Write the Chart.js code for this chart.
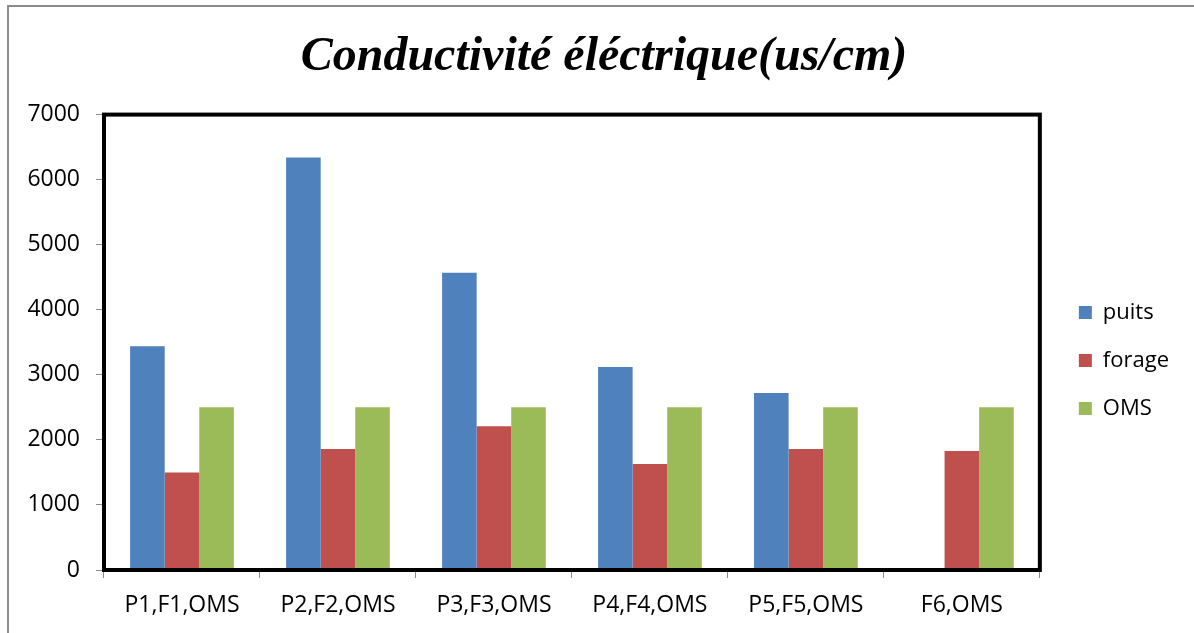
<!DOCTYPE html>
<html>
<head>
<meta charset="utf-8">
<script src="https://cdn.jsdelivr.net/npm/chart.js@4.4.0/dist/chart.umd.min.js"></script>
<style>
  html, body { margin: 0; padding: 0; background: #fff; }
  #wrap { position: relative; width: 1194px; height: 633px; }
  #frame { position: absolute; left: 7px; top: 5px; right: 0; bottom: 0; border-left: 2px solid #8c8c8c; border-top: 2px solid #8c8c8c; }
  canvas { position: absolute; left: 0; top: 0; }
</style>
</head>
<body>
<div id="wrap">
  <div id="frame"></div>
  <canvas id="c1" width="1194" height="633"></canvas>
</div>
<script>
// Conductivité éléctrique (us/cm)
var labels = ['P1,F1,OMS', 'P2,F2,OMS', 'P3,F3,OMS', 'P4,F4,OMS', 'P5,F5,OMS', 'F6,OMS'];
var puits = [3440, 6340, 4570, 3120, 2720, null];
var forage = [1500, 1860, 2210, 1630, 1860, 1830];
var oms = [2500, 2500, 2500, 2500, 2500, 2500];
var yTicks = [0, 1000, 2000, 3000, 4000, 5000, 6000, 7000];

var font = "'Open Sans'";

// black frame round the plot area
var plotBorder = {
  id: 'plotBorder',
  afterDatasetsDraw: function(chart) {
    var a = chart.chartArea, ctx = chart.ctx;
    ctx.save();
    ctx.strokeStyle = '#000';
    ctx.lineWidth = 4;
    ctx.strokeRect(a.left, a.top, a.right - a.left, a.bottom - a.top);
    ctx.restore();
  }
};

// nudge legend and title to where they sit in the picture
var boxShift = {
  id: 'boxShift',
  afterLayout: function(chart) {
    var lg = chart.legend;
    lg.left += 13; lg.right += 13;
    lg.top += 44; lg.bottom += 44;
    var t = chart.titleBlock;
    t.left += 21; t.right += 21;
  }
};

var ctx = document.getElementById('c1').getContext('2d');
var chart1 = new Chart(ctx, {
  type: 'bar',
  data: {
    labels: labels,
    datasets: [
      { label: 'puits', data: puits, backgroundColor: '#4f81bd' },
      { label: 'forage', data: forage, backgroundColor: '#c0504d' },
      { label: 'OMS', data: oms, backgroundColor: '#9bbb59' }
    ]
  },
  options: {
    responsive: false,
    animation: false,
    categoryPercentage: 0.665,
    barPercentage: 1,
    layout: { padding: { left: 0, right: 28, top: 0, bottom: 0 } },
    plugins: {
      title: {
        display: true,
        text: 'Conductivité éléctrique(us/cm)',
        color: '#000',
        font: { family: "'Liberation Serif', 'Times New Roman', serif", size: 48, style: 'italic', weight: 'bold' },
        padding: { top: 29, bottom: 28 }
      },
      legend: {
        position: 'right',
        labels: {
          boxWidth: 13,
          boxHeight: 13,
          padding: 26,
          color: '#000',
          font: { family: font, size: 22 }
        }
      },
      tooltip: { enabled: false }
    },
    scales: {
      x: {
        grid: { offset: true, drawOnChartArea: false, drawTicks: true, tickLength: 8, color: '#8c8c8c' },
        border: { display: false },
        ticks: { color: '#000', font: { family: font, size: 23 }, padding: 14, maxRotation: 0 },
        afterFit: function(s) { s.height = 63; }
      },
      y: {
        min: 0,
        max: 7000,
        afterBuildTicks: function(s) { s.ticks = yTicks.map(function(v) { return { value: v }; }); },
        grid: { drawOnChartArea: false, drawTicks: true, tickLength: 8, color: '#8c8c8c' },
        border: { display: false },
        ticks: { color: '#000', font: { family: font, size: 23 }, padding: 16, callback: function(v) { return String(v); } },
        afterFit: function(s) { s.width = 104; }
      }
    }
  },
  plugins: [plotBorder, boxShift]
});
</script>
</body>
</html>
